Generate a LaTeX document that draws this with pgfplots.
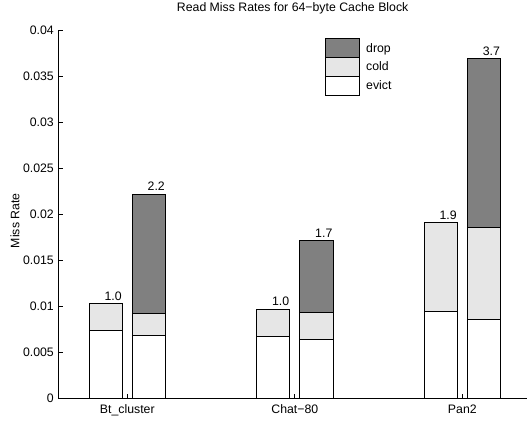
\documentclass[border=0pt]{standalone}
\usepackage{pgfplots}
\pgfplotsset{compat=1.18}
\usepackage{fontspec}
\setmainfont{Liberation Sans}
\definecolor{dropgray}{RGB}{128,128,128}
\definecolor{coldgray}{RGB}{230,230,230}
\pgfplotsset{boxlegend/.style={legend image code/.code={\draw[##1] (0bp,-9.35bp) rectangle (34.3bp,9.35bp);}}}

\begin{document}
\begin{tikzpicture}[font=\fontsize{12.3bp}{14bp}\selectfont]
\begin{axis}[
  at={(0,0)}, anchor=south west,
  scale only axis,
  width=468.7bp, height=368.3bp,
  ybar stacked,
  bar width=33.4bp,
  ymin=0, ymax=0.04,
  xmin=-0.412, xmax=2.386,
  axis lines*=left,
  axis line style={line width=0.8bp, black},
  tick align=inside,
  major tick length=4.5bp,
  tick style={line width=0.8bp, black},
  xtick={0,1,2},
  xticklabels={Bt\_cluster, Chat−80, Pan2},
  ytick={0,0.005,0.01,0.015,0.02,0.025,0.03,0.035,0.04},
  yticklabels={0,0.005,0.01,0.015,0.02,0.025,0.03,0.035,0.04},
  scaled y ticks=false,
  xticklabel style={anchor=base, inner sep=0pt, yshift=-15bp},
  yticklabel style={anchor=east, inner sep=0pt, xshift=-4.3bp},
  every axis y label/.style={at={(axis description cs:0,0.482)}, xshift=-43.3bp, rotate=90, anchor=center},
  ylabel={Miss Rate},
  title style={at={(axis description cs:0.5,1)}, anchor=base, inner sep=0pt, yshift=12.7bp},
  title={Read Miss Rates for 64−byte Cache Block},
  legend style={at={(rel axis cs:0.569,0.9775)}, anchor=north west, draw=none, fill=none,
    inner sep=0pt, row sep=-1bp, column sep=5.7bp, nodes={inner sep=0pt}},
  legend cell align=left,
  reverse legend,
]
% evict (bottom), cold (middle), drop (top); first bar of each pair at -0.129, second at +0.129
\addplot[fill=white, draw=black, line width=1bp, boxlegend]
  coordinates {(-0.129,0.00741) (0.129,0.00684) (0.871,0.00673) (1.129,0.00640) (1.871,0.00946) (2.129,0.00860)};
\addlegendentry{evict}
\addplot[fill=coldgray, draw=black, line width=1bp, boxlegend]
  coordinates {(-0.129,0.00291) (0.129,0.00237) (0.871,0.00295) (1.129,0.00292) (1.871,0.00961) (2.129,0.00993)};
\addlegendentry{cold}
\addplot[fill=dropgray, draw=black, line width=1bp, boxlegend]
  coordinates {(-0.129,0) (0.129,0.01296) (0.871,0) (1.129,0.00781) (1.871,0) (2.129,0.01837)};
\addlegendentry{drop}

\node[anchor=base east, inner sep=0pt] at ([xshift=16.1bp, yshift=3.2bp]axis cs:-0.129,0.01032) {1.0};
\node[anchor=base east, inner sep=0pt] at ([xshift=16.1bp, yshift=3.2bp]axis cs:0.129,0.02217) {2.2};
\node[anchor=base east, inner sep=0pt] at ([xshift=16.1bp, yshift=3.2bp]axis cs:0.871,0.00968) {1.0};
\node[anchor=base east, inner sep=0pt] at ([xshift=16.1bp, yshift=3.2bp]axis cs:1.129,0.01713) {1.7};
\node[anchor=base east, inner sep=0pt] at ([xshift=16.1bp, yshift=3.2bp]axis cs:1.871,0.01907) {1.9};
\node[anchor=base east, inner sep=0pt] at ([xshift=16.1bp, yshift=3.2bp]axis cs:2.129,0.03690) {3.7};
\end{axis}
\pgfresetboundingbox
\path (-58.3bp,-23.7bp) rectangle (468.7bp,398.3bp);
\end{tikzpicture}
\end{document}
